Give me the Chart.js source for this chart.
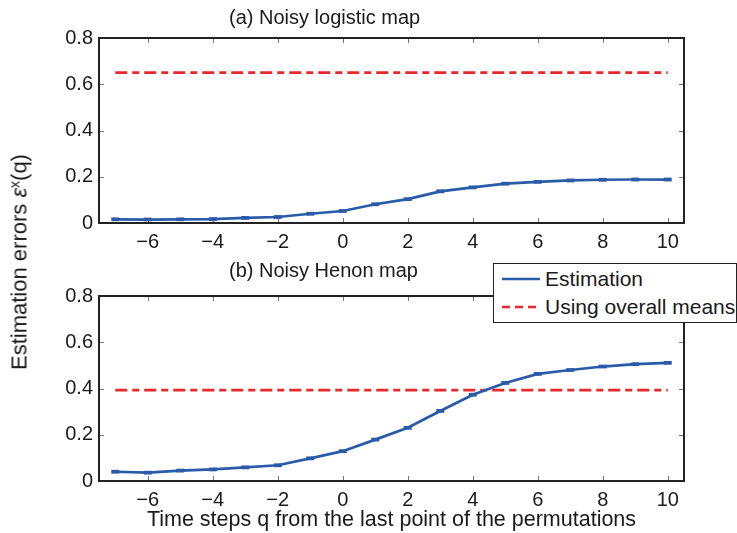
<!DOCTYPE html>
<html><head><meta charset="utf-8">
<script src="https://cdn.jsdelivr.net/npm/chart.js@4/dist/chart.umd.min.js"></script>
<style>
body{margin:0;background:#fff;width:737px;height:533px;overflow:hidden;position:relative;font-family:"Liberation Sans",Arial,sans-serif;color:#1a1a1a}
canvas{position:absolute;left:0}
#c1{top:0}
#c2{top:250px}
.ttl{position:absolute;font-size:20px;white-space:nowrap;line-height:1}
#ylab{position:absolute;left:19px;top:262px;font-size:22px;white-space:nowrap;line-height:1;transform:translate(-50%,-50%) rotate(-90deg)}
#ylab sup{font-size:14px;vertical-align:7px}
#legend{position:absolute;left:493px;top:263px;width:244px;height:60px;box-sizing:border-box;border:1.5px solid #222;background:#fff;font-size:21px}
.row{position:absolute;left:0;height:24px;line-height:24px;white-space:nowrap}
.row svg{position:absolute;left:8px;top:0}
.row span{position:absolute;left:51px;top:0}
</style>
</head>
<body>
<canvas id="c1" width="737" height="250"></canvas>
<canvas id="c2" width="737" height="283"></canvas>
<div class="ttl" id="t1" style="left:229px;top:7px">(a) Noisy logistic map</div>
<div class="ttl" id="t2" style="left:229px;top:260px">(b) Noisy Henon map</div>
<div id="ylab">Estimation errors <i>ε</i><sup>x</sup>(q)</div>
<div id="legend">
  <div class="row" style="top:3px"><svg width="40" height="24"><line x1="0" y1="12" x2="38" y2="12" stroke="#2a5ba8" stroke-width="2.5"/></svg><span>Estimation</span></div>
  <div class="row" style="top:31px"><svg width="40" height="24"><line x1="0" y1="12" x2="38" y2="12" stroke="#e8282b" stroke-width="2.5" stroke-dasharray="8,5"/></svg><span>Using overall means</span></div>
</div>
<script>
// ---- data ----
const steps = [-7,-6,-5,-4,-3,-2,-1,0,1,2,3,4,5,6,7,8,9,10];
const logisticEstimation = [0.016,0.015,0.016,0.017,0.022,0.026,0.040,0.052,0.081,0.103,0.137,0.154,0.170,0.178,0.184,0.187,0.188,0.188];
const henonEstimation = [0.040,0.036,0.045,0.050,0.059,0.068,0.098,0.129,0.179,0.230,0.303,0.373,0.424,0.463,0.480,0.495,0.505,0.511];
const meanSteps = [-7, 10];
const logisticMeans = [0.65, 0.65];
const henonMeans = [0.393, 0.393];
const xTicks = [-6,-4,-2,0,2,4,6,8,10];
const yTicks = [0,0.2,0.4,0.6,0.8];

const FONT = '"Liberation Sans", Arial, sans-serif';
const BLUE = '#2a5ba8', RED = '#e8282b', INK = '#1a1a1a';

const boxTicks = {
  id:'boxTicks',
  beforeDatasetsDraw(chart){
    const {ctx, chartArea:a, scales:{x,y}} = chart;
    ctx.save();
    ctx.strokeStyle='#777'; ctx.lineWidth=1;
    ctx.beginPath();
    xTicks.forEach(v=>{const px=Math.round(x.getPixelForValue(v))+0.5;
      ctx.moveTo(px,a.bottom); ctx.lineTo(px,a.bottom-5);
      ctx.moveTo(px,a.top); ctx.lineTo(px,a.top+5);});
    yTicks.forEach(v=>{const py=Math.round(y.getPixelForValue(v))+0.5;
      ctx.moveTo(a.left,py); ctx.lineTo(a.left+5,py);
      ctx.moveTo(a.right,py); ctx.lineTo(a.right-5,py);});
    ctx.stroke();
    ctx.restore();
  },
  afterDraw(chart){
    const {ctx, chartArea:a} = chart;
    ctx.save();
    ctx.strokeStyle='#222'; ctx.lineWidth=2;
    ctx.strokeRect(a.left,a.top,a.right-a.left,a.bottom-a.top);
    ctx.restore();
  }
};

function xy(xs, ys){ return xs.map((v,i)=>({x:v,y:ys[i]})); }

function makeChart(id, est, means, pad, xH, xTitle){
  const xScale = {
    type:'linear', min:-7.5, max:10.5,
    grid:{display:false, drawTicks:false}, border:{display:false},
    ticks:{color:INK, font:{size:20, family:FONT}, padding:7,
      callback:v=>String(v).replace('-','\u2212')},
    afterBuildTicks:s=>{ s.ticks = xTicks.map(v=>({value:v})); },
    afterFit:s=>{ s.height = xH; }
  };
  if (xTitle) xScale.title = {display:true, text:xTitle, color:INK, font:{size:21.5, family:FONT}, padding:{top:0,bottom:0}};
  return new Chart(document.getElementById(id), {
    type:'line',
    data:{datasets:[
      {data:xy(steps, est), borderColor:BLUE, backgroundColor:BLUE, borderWidth:2.7,
       pointStyle:'line', pointRadius:4, pointBorderWidth:3.8, pointBorderColor:BLUE, tension:0, order:1},
      {data:xy(meanSteps, means), borderColor:RED, borderWidth:2.7, borderDash:[12,5,7,5],
       pointRadius:0, tension:0, order:2}
    ]},
    options:{
      responsive:false, animation:false, events:[],
      layout:{padding:pad},
      plugins:{legend:{display:false}, tooltip:{enabled:false}},
      scales:{
        x:xScale,
        y:{min:0, max:0.8,
          grid:{display:false, drawTicks:false}, border:{display:false},
          ticks:{color:INK, font:{size:20, family:FONT}, padding:6,
            callback:v=>v===0?'0':v.toFixed(1)},
          afterBuildTicks:s=>{ s.ticks = yTicks.map(v=>({value:v})); },
          afterFit:s=>{ s.width = 50; }
        }
      }
    },
    plugins:[boxTicks]
  });
}

makeChart('c1', logisticEstimation, logisticMeans, {left:49, right:53, top:38, bottom:0}, 27, null);
makeChart('c2', henonEstimation, henonMeans, {left:49, right:53, top:46, bottom:0}, 52, 'Time steps q from the last point of the permutations');
</script>
</body></html>
